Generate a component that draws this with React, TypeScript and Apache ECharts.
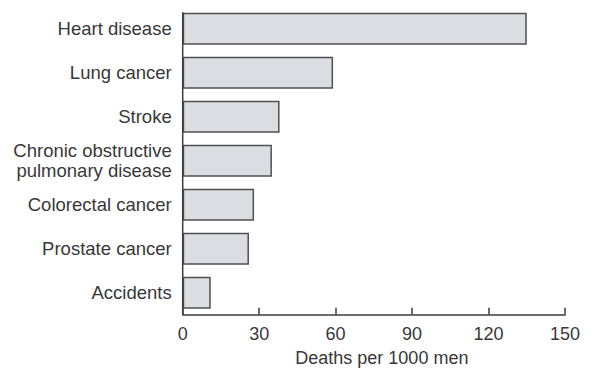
import React, { useEffect, useRef } from "react";
import * as echarts from "echarts";

const categories = [
  "Heart disease",
  "Lung cancer",
  "Stroke",
  "Chronic obstructive\npulmonary disease",
  "Colorectal cancer",
  "Prostate cancer",
  "Accidents",
];
const values = [135, 59, 38, 35, 28, 26, 11];
const xTicks = { min: 0, max: 150, interval: 30 };
const xAxisName = "Deaths per 1000 men";

const FONT = "'Liberation Sans', Arial, Helvetica, sans-serif";
const TEXT = "#383838";
const AXIS = "#3c3c3c";
const BAR_W = 32;

export default function App() {
  const ref = useRef<HTMLDivElement>(null);
  useEffect(() => {
    if (!ref.current) return;
    const chart = echarts.init(ref.current, undefined, { renderer: "svg" });
    chart.setOption({
      animation: false,
      grid: {
        left: 182.7,
        right: 27,
        top: 6.65,
        bottom: 53.35,
        containLabel: false,
        outerBoundsMode: "none",
      },
      xAxis: {
        type: "value",
        min: xTicks.min,
        max: xTicks.max,
        interval: xTicks.interval,
        name: xAxisName,
        nameLocation: "middle",
        nameGap: 35,
        nameTextStyle: {
          fontFamily: FONT,
          fontSize: 18,
          color: TEXT,
          lineHeight: 16,
          padding: [0, 0, 0, 16],
        },
        axisLine: { show: true, lineStyle: { color: AXIS, width: 1.5 } },
        axisTick: { show: true, inside: true, length: 7, lineStyle: { color: AXIS, width: 1.5 } },
        axisLabel: { fontFamily: FONT, fontSize: 18, color: TEXT, margin: 10 },
        splitLine: { show: false },
      },
      yAxis: {
        type: "category",
        inverse: true,
        data: categories,
        axisLine: { show: false },
        axisTick: { show: false },
        axisLabel: { fontFamily: FONT, fontSize: 18.5, color: TEXT, margin: 11, lineHeight: 20, align: "right" },
      },
      series: [
        {
          type: "bar",
          data: values,
          barWidth: BAR_W,
          itemStyle: { color: "#dcdde2", borderColor: "#505050", borderWidth: 1.5 },
          silent: true,
        },
      ],
    });
    const n = categories.length;
    const p0 = chart.convertToPixel({ gridIndex: 0 }, [xTicks.min, 0]) as number[];
    const pN = chart.convertToPixel({ gridIndex: 0 }, [xTicks.min, n - 1]) as number[];
    const band = (pN[1] - p0[1]) / (n - 1);
    chart.setOption({
      graphic: [
        {
          type: "line",
          shape: { x1: p0[0], y1: p0[1] - BAR_W / 2 - 0.5, x2: p0[0], y2: pN[1] + band / 2 },
          style: { stroke: AXIS, lineWidth: 1.5 },
          z: 10,
        },
      ],
    });
    return () => chart.dispose();
  }, []);
  return (
    <div
      ref={ref}
      style={{ position: "fixed", left: 0, top: 0, width: 592, height: 368, background: "#fff" }}
    />
  );
}
